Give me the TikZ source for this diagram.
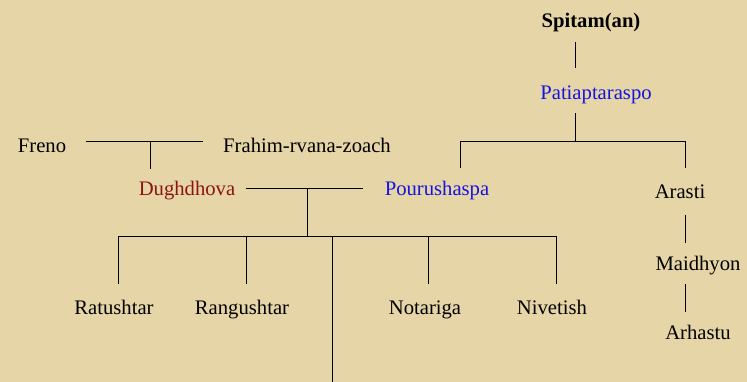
\documentclass[tikz,border=0pt]{standalone}
\usepackage{fontspec}
\setmainfont{Liberation Serif}
\definecolor{bg_tan}{RGB}{230,213,166}
\definecolor{name_blue}{RGB}{20,20,225}
\definecolor{name_red}{RGB}{140,20,20}

\begin{document}
\begin{tikzpicture}[x=0.75pt,y=-0.75pt,line width=0.75pt]
    \tikzstyle{person}=[inner sep=0pt, anchor=base, text=black, font=\fontsize{15.5}{18}\selectfont]
    \tikzstyle{head}=[style=person, font=\fontsize{15.5}{18}\selectfont\bfseries]
    \tikzstyle{pat}=[style=person, text=name_blue]
    \tikzstyle{mat}=[style=person, text=name_red]

    \fill[bg_tan] (0,0) rectangle (747,382);
    \useasboundingbox (0,0) rectangle (747,382);

    \node[head]   (spitam) at (591,27)  {Spitam(an)};
    \node[pat]    (patiap) at (596,99)  {Patiaptaraspo};
    \node[person] (freno)  at (42,152)  {Freno};
    \node[person] (frahim) at (307,152) {Frahim-rvana-zoach};
    \node[mat]    (dughd)  at (187,195) {Dughdhova};
    \node[pat]    (pourus) at (437,195) {Pourushaspa};
    \node[person] (arasti) at (680,198) {Arasti};
    \node[person] (maidh)  at (698,270) {Maidhyon};
    \node[person] (arhas)  at (698,339) {Arhastu};
    \node[person] (ratus)  at (114,314) {Ratushtar};
    \node[person] (rangu)  at (242,314) {Rangushtar};
    \node[person] (notar)  at (425,314) {Notariga};
    \node[person] (nivet)  at (552,314) {Nivetish};

    % junctions
    \coordinate (sp_a) at (575,42);
    \coordinate (sp_b) at (575,68);
    \coordinate (pa_a) at (575,113);
    \coordinate (pa_b) at (575,141);
    \coordinate (pa_l) at (460,141);
    \coordinate (pa_r) at (685,141);
    \coordinate (po_t) at (460,168);
    \coordinate (ar_t) at (685,168);
    \coordinate (ar_b) at (685,215);
    \coordinate (ma_t) at (685,243);
    \coordinate (ma_b) at (685,284);
    \coordinate (ah_t) at (685,312);
    \coordinate (fr_l) at (86,141);
    \coordinate (fr_r) at (203,141);
    \coordinate (fr_m) at (150,141);
    \coordinate (du_t) at (150,169);
    \coordinate (du_l) at (246,188);
    \coordinate (du_r) at (363,188);
    \coordinate (du_m) at (307,188);
    \coordinate (ki_m) at (307,236);
    \coordinate (ki_l) at (118,236);
    \coordinate (ki_r) at (556,236);
    \coordinate (ra_t) at (118,284);
    \coordinate (rg_b) at (246,236);
    \coordinate (rg_t) at (246,284);
    \coordinate (zz_a) at (332,236);
    \coordinate (zz_b) at (332,382);
    \coordinate (no_b) at (428,236);
    \coordinate (no_t) at (428,284);
    \coordinate (ni_t) at (556,284);

    \path
     (sp_a) edge (sp_b)
     (pa_a) edge (pa_b)
     (pa_l) edge (pa_r)
     (pa_l) edge (po_t)
     (pa_r) edge (ar_t)
     (ar_b) edge (ma_t)
     (ma_b) edge (ah_t)
     (fr_l) edge (fr_r)
     (fr_m) edge (du_t)
     (du_l) edge (du_r)
     (du_m) edge (ki_m)
     (ki_l) edge (ki_r)
     (ki_l) edge (ra_t)
     (rg_b) edge (rg_t)
     (zz_a) edge (zz_b)
     (no_b) edge (no_t)
     (ki_r) edge (ni_t)
     ;
\end{tikzpicture}
\end{document}
